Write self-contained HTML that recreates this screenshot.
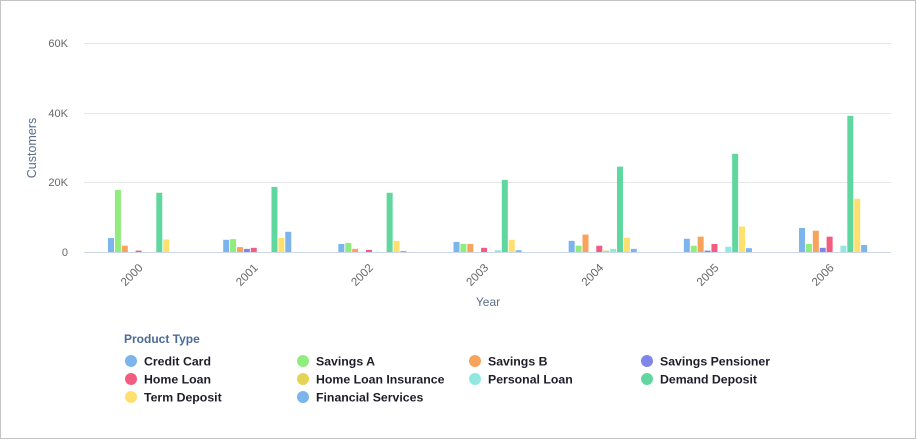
<!DOCTYPE html>
<html><head><meta charset="utf-8"><style>
html,body{margin:0;padding:0;background:#fff;}
.box{position:absolute;left:0;top:0;width:914px;height:437px;border:1px solid #c4c4c4;background:#fff;}
svg{position:absolute;left:0;top:0;}
text{font-family:"Liberation Sans",sans-serif;}
</style></head><body>
<div class="box"></div>
<svg width="917" height="440" viewBox="0 0 917 440" xmlns="http://www.w3.org/2000/svg">
<g stroke="#e6e6e6" stroke-width="1">
<line x1="84" y1="43.5" x2="891" y2="43.5"/>
<line x1="84" y1="113.5" x2="891" y2="113.5"/>
<line x1="84" y1="182.5" x2="891" y2="182.5"/>
</g>
<g font-size="11" fill="#666" text-anchor="end">
<text x="68" y="47">60K</text>
<text x="68" y="117">40K</text>
<text x="68" y="186">20K</text>
<text x="68" y="256">0</text>
</g>
<text x="0" y="0" font-size="12.5" fill="#5b6e88" text-anchor="middle" transform="translate(36,148) rotate(-90)">Customers</text>
<g id="bars"></g>
<line x1="84" y1="252.5" x2="891" y2="252.5" stroke="#ccd6eb" stroke-width="1"/>
<g id="xl" font-size="11.5" fill="#666" text-anchor="end"></g>
<text x="488" y="306" font-size="12" fill="#5b6e88" text-anchor="middle">Year</text>
<text x="124" y="343" font-size="12" font-weight="bold" fill="#4a6a98">Product Type</text>
<g font-size="12.3" font-weight="bold" fill="#1e1e2a">
<circle cx="131" cy="361" r="6" fill="#7cb5ec"/><text x="144" y="365.5">Credit Card</text>
<circle cx="303" cy="361" r="6" fill="#90ed7d"/><text x="316" y="365.5">Savings A</text>
<circle cx="475" cy="361" r="6" fill="#f7a35c"/><text x="488" y="365.5">Savings B</text>
<circle cx="647" cy="361" r="6" fill="#8085e9"/><text x="660" y="365.5">Savings Pensioner</text>
<circle cx="131" cy="379" r="6" fill="#f15c80"/><text x="144" y="383.5">Home Loan</text>
<circle cx="303" cy="379" r="6" fill="#e4d354"/><text x="316" y="383.5">Home Loan Insurance</text>
<circle cx="475" cy="379" r="6" fill="#91e8e1"/><text x="488" y="383.5">Personal Loan</text>
<circle cx="647" cy="379" r="6" fill="#60d79e"/><text x="660" y="383.5">Demand Deposit</text>
<circle cx="131" cy="397" r="6" fill="#ffdf6e"/><text x="144" y="401.5">Term Deposit</text>
<circle cx="303" cy="397" r="6" fill="#7cb5ec"/><text x="316" y="401.5">Financial Services</text>
</g>
</svg>
<script>
var colors=["#7cb5ec","#90ed7d","#f7a35c","#8085e9","#f15c80","#e4d354","#91e8e1","#60d79e","#ffdf6e","#7cb5ec"];
var data=[
[4000,17800,1800,0,400,0,0,17000,3600,0],
[3500,3700,1400,900,1200,0,0,18700,4000,5800],
[2300,2600,900,0,600,0,0,17000,3200,300],
[2900,2300,2300,0,1200,0,500,20700,3500,500],
[3200,1800,5000,0,1800,400,900,24500,4100,900],
[3800,1800,4400,400,2300,0,1500,28200,7300,1100],
[6900,2300,6100,1200,4400,0,1800,39100,15300,2000]];
var ns="http://www.w3.org/2000/svg";
var g=document.getElementById("bars"),xl=document.getElementById("xl");
var k=69.67/20000;
for(var c=0;c<7;c++){
 var s=108+115.17*c;
 for(var i=0;i<10;i++){
  var v=data[c][i]; if(!v)continue;
  var h=v*k; var r=document.createElementNS(ns,"rect");
  r.setAttribute("x",(s+6.9*i).toFixed(2));r.setAttribute("y",(252-h).toFixed(2));
  r.setAttribute("width","6");r.setAttribute("height",h.toFixed(2));
  r.setAttribute("fill",colors[i]);g.appendChild(r);
 }
 var cx=s+34.5;
 var t=document.createElementNS(ns,"text");
 t.setAttribute("transform","translate("+(cx+1).toFixed(1)+",268.5) rotate(-45)");
 t.textContent=String(2000+c);xl.appendChild(t);
}
</script>
</body></html>
